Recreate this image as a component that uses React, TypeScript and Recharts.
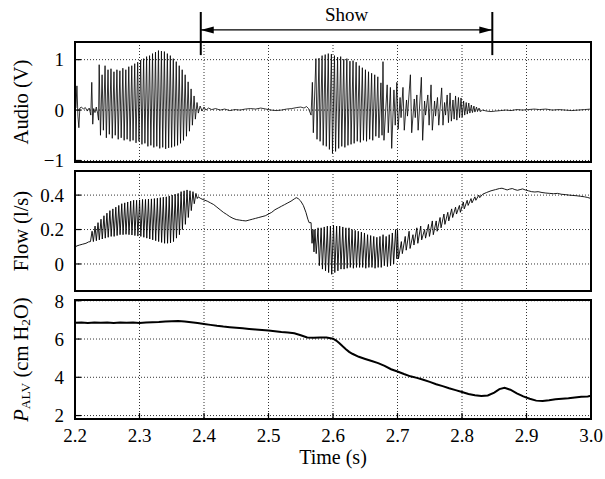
import React from 'react';
import {
  LineChart,
  Line,
  XAxis,
  YAxis,
  CartesianGrid,
  ReferenceArea,
  ReferenceLine,
  Label,
} from 'recharts';

type Pt = [number, number];

const FONT = 'Liberation Serif, DejaVu Serif, serif';

const timeTicks = [2.2, 2.3, 2.4, 2.5, 2.6, 2.7, 2.8, 2.9, 3.0];
const audioTicks = [-1, 0, 1];
const flowTicks = [0, 0.2, 0.4];
const palvTicks = [2, 4, 6, 8];

// "Show" interval marked above the audio trace (s)
const showStart = 2.395;
const showEnd = 2.847;

// audio (V)
const audioLead: Pt[] = [
  [2.2, 0.02], [2.2015, 0.05], [2.203, 0.48], [2.2045, -0.12], [2.206, -0.35], [2.2075, 0.04],
  [2.21, 0.06], [2.213, 0.02], [2.216, 0.05], [2.219, -0.02], [2.222, 0.04], [2.2245, -0.1],
  [2.226, 0.55], [2.2275, -0.28], [2.229, 0.03], [2.231, -0.05], [2.233, 0.06], [2.235, -0.06],
  [2.2365, -0.2],
];
const audioBurst1: Pt[] = [
  [2.2375, 0.9], [2.2395, -0.5], [2.242, 0.7], [2.244, -0.4], [2.2466, 0.88], [2.2486, -0.55],
  [2.2512, 0.8], [2.2532, -0.48], [2.2558, 0.82], [2.2578, -0.56], [2.2604, 0.76], [2.2624, -0.5],
  [2.265, 0.8], [2.267, -0.58], [2.2696, 0.78], [2.2716, -0.55], [2.2742, 0.83], [2.2762, -0.6],
  [2.2788, 0.8], [2.2808, -0.58], [2.2834, 0.86], [2.2854, -0.62], [2.288, 0.88], [2.29, -0.6],
  [2.2926, 0.92], [2.2946, -0.65], [2.2972, 0.95], [2.2992, -0.62], [2.3018, 0.99], [2.3038, -0.68],
  [2.3064, 1.02], [2.3084, -0.66], [2.311, 1.06], [2.313, -0.72], [2.3156, 1.08], [2.3176, -0.7],
  [2.3202, 1.12], [2.3222, -0.74], [2.3248, 1.15], [2.3268, -0.72], [2.3294, 1.18], [2.3314, -0.76],
  [2.334, 1.17], [2.336, -0.74], [2.3386, 1.16], [2.3406, -0.77], [2.3432, 1.12], [2.3452, -0.75],
  [2.3478, 1.08], [2.3498, -0.74], [2.3524, 1.02], [2.3544, -0.72], [2.357, 0.96], [2.359, -0.7],
  [2.3616, 0.88], [2.3636, -0.66], [2.3662, 0.8], [2.3682, -0.6], [2.3708, 0.7], [2.3728, -0.52],
  [2.3754, 0.56], [2.3774, -0.42], [2.38, 0.42], [2.382, -0.3], [2.3846, 0.28], [2.3866, -0.18],
  [2.3892, 0.15], [2.3912, -0.06],
];
const audioGap: Pt[] = [
  [2.394, 0.08], [2.397, -0.02], [2.4, 0.06], [2.403, 0.0], [2.407, 0.04], [2.412, 0.01],
  [2.418, 0.03], [2.425, 0.0], [2.432, 0.02], [2.44, -0.01], [2.448, 0.01], [2.456, 0.0],
  [2.464, 0.02], [2.472, 0.03], [2.48, 0.02], [2.488, 0.04], [2.496, 0.02], [2.504, 0.0],
  [2.512, -0.01], [2.52, 0.0], [2.528, 0.02], [2.536, 0.03], [2.544, 0.05], [2.55, 0.06],
  [2.555, 0.04], [2.559, 0.07], [2.562, 0.03],
];
const audioBurst2: Pt[] = [
  [2.566, -0.1], [2.568, 0.55], [2.5695, -0.45], [2.5735, 1.02], [2.5752, -0.58],
  [2.5783, 1.03], [2.58, -0.62], [2.5831, 1.08], [2.5848, -0.7], [2.5879, 1.1], [2.5896, -0.72],
  [2.5927, 1.12], [2.5944, -0.78], [2.5975, 1.11], [2.5992, -0.86], [2.6023, 1.08], [2.604, -0.82],
  [2.6071, 1.05], [2.6088, -0.76], [2.6119, 1.06], [2.6136, -0.72], [2.6167, 1.01], [2.6184, -0.74],
  [2.6215, 1.02], [2.6232, -0.7], [2.6263, 0.97], [2.628, -0.68], [2.6311, 0.98], [2.6328, -0.66],
  [2.6359, 0.95], [2.6376, -0.62], [2.6407, 0.88], [2.6424, -0.64], [2.6455, 0.84], [2.6472, -0.6],
  [2.6503, 0.8], [2.652, -0.62], [2.6551, 0.76], [2.6568, -0.58], [2.6599, 0.73], [2.6616, -0.6],
  [2.6647, 0.7], [2.6664, -0.52], [2.6695, 0.66], [2.6712, -0.55], [2.6743, 0.54], [2.676, -0.5],
  [2.6775, 0.96], [2.679, -0.6], [2.684, 0.5], [2.6857, -0.45], [2.689, 0.45], [2.691, -0.76],
  [2.6945, 0.4], [2.6965, -0.3], [2.699, 0.55], [2.701, -0.38], [2.704, 0.25], [2.7055, -0.15],
  [2.7085, 0.45], [2.7105, -0.4], [2.714, 0.2], [2.7155, -0.12], [2.72, 0.7], [2.722, -0.45],
  [2.726, 0.22], [2.7275, -0.15], [2.73, 0.3], [2.732, -0.4], [2.737, 0.65], [2.739, -0.6],
  [2.742, 0.18], [2.7435, -0.1], [2.747, 0.3], [2.749, -0.3], [2.752, 0.5], [2.754, -0.4],
  [2.7575, 0.18], [2.759, -0.12], [2.762, 0.25], [2.764, -0.3], [2.7685, 0.44], [2.7705, -0.3],
  [2.773, 0.15], [2.7745, -0.1], [2.777, 0.3], [2.779, -0.25], [2.7815, 0.34], [2.7835, -0.22],
  [2.786, 0.2], [2.7878, -0.18], [2.79, 0.28], [2.792, -0.2], [2.7945, 0.25], [2.7962, -0.15],
  [2.7985, 0.24], [2.8002, -0.14], [2.8025, 0.18], [2.8042, -0.1], [2.8065, 0.15], [2.8082, -0.08],
  [2.8105, 0.14], [2.8122, -0.06], [2.8145, 0.1], [2.8162, -0.05], [2.8185, 0.08], [2.82, -0.04],
  [2.8225, 0.06], [2.824, -0.03], [2.8265, 0.04], [2.828, -0.03],
];
const audioTail: Pt[] = [
  [2.832, 0.0], [2.838, -0.02], [2.845, -0.03], [2.852, -0.02], [2.86, -0.01], [2.868, 0.0],
  [2.876, -0.01], [2.885, 0.01], [2.894, 0.0], [2.903, 0.01], [2.912, 0.02], [2.92, 0.01],
  [2.93, 0.02], [2.94, 0.0], [2.95, 0.01], [2.96, 0.0], [2.97, -0.01], [2.98, 0.0],
  [2.99, 0.01], [3.0, 0.02],
];

// flow (l/s)
const flowLead: Pt[] = [
  [2.2, 0.17], [2.201, 0.1], [2.203, 0.105], [2.207, 0.11], [2.212, 0.115], [2.217, 0.12],
  [2.221, 0.128], [2.224, 0.13],
];
const flowBurst1: Pt[] = [
  [2.2265, 0.19], [2.2285, 0.13], [2.2311, 0.22], [2.2331, 0.135], [2.2357, 0.24], [2.2377, 0.14],
  [2.2403, 0.26], [2.2423, 0.145], [2.2449, 0.28], [2.2469, 0.15], [2.2495, 0.295], [2.2515, 0.155],
  [2.2541, 0.31], [2.2561, 0.16], [2.2587, 0.32], [2.2607, 0.16], [2.2633, 0.33], [2.2653, 0.165],
  [2.2679, 0.34], [2.2699, 0.17], [2.2725, 0.35], [2.2745, 0.17], [2.2771, 0.355], [2.2791, 0.172],
  [2.2817, 0.36], [2.2837, 0.17], [2.2863, 0.365], [2.2883, 0.168], [2.2909, 0.37], [2.2929, 0.165],
  [2.2955, 0.37], [2.2975, 0.162], [2.3001, 0.372], [2.3021, 0.16], [2.3047, 0.375], [2.3067, 0.155],
  [2.3093, 0.375], [2.3113, 0.15], [2.3139, 0.377], [2.3159, 0.145], [2.3185, 0.378], [2.3205, 0.14],
  [2.3231, 0.38], [2.3251, 0.135], [2.3277, 0.382], [2.3297, 0.13], [2.3323, 0.385], [2.3343, 0.125],
  [2.3369, 0.388], [2.3389, 0.12], [2.3415, 0.39], [2.3435, 0.12], [2.3461, 0.395], [2.3481, 0.122],
  [2.3507, 0.4], [2.3527, 0.13], [2.3553, 0.405], [2.3573, 0.15], [2.3599, 0.41], [2.3619, 0.17],
  [2.3645, 0.42], [2.3665, 0.2], [2.3691, 0.425], [2.3711, 0.23], [2.3737, 0.43], [2.3757, 0.27],
  [2.3783, 0.425], [2.3803, 0.31], [2.3829, 0.42], [2.3849, 0.35], [2.3875, 0.41], [2.3895, 0.38],
];
const flowDip: Pt[] = [
  [2.391, 0.39], [2.395, 0.38], [2.4, 0.372], [2.405, 0.365], [2.41, 0.355], [2.415, 0.345],
  [2.42, 0.33], [2.425, 0.315], [2.43, 0.3], [2.435, 0.288], [2.44, 0.275], [2.445, 0.265],
  [2.45, 0.258], [2.455, 0.255], [2.46, 0.252], [2.465, 0.25], [2.47, 0.255], [2.475, 0.26],
  [2.48, 0.265], [2.485, 0.27], [2.49, 0.275], [2.495, 0.28], [2.5, 0.29], [2.505, 0.3],
  [2.51, 0.315], [2.515, 0.325], [2.52, 0.335], [2.525, 0.345], [2.53, 0.355], [2.535, 0.365],
  [2.54, 0.378], [2.543, 0.385], [2.546, 0.38], [2.55, 0.365], [2.554, 0.34], [2.558, 0.3],
  [2.561, 0.26], [2.563, 0.24],
];
const flowBurst2: Pt[] = [
  [2.566, 0.24], [2.5675, 0.12], [2.569, 0.2], [2.5705, 0.07],
  [2.572, 0.2], [2.574, 0.06], [2.5768, 0.21], [2.5788, -0.01], [2.5816, 0.21], [2.5836, -0.03],
  [2.5864, 0.215], [2.5884, -0.04], [2.5912, 0.22], [2.5932, -0.05], [2.596, 0.22], [2.598, -0.06],
  [2.6008, 0.225], [2.6028, -0.05], [2.6056, 0.22], [2.6076, -0.04], [2.6104, 0.22], [2.6124, -0.03],
  [2.6152, 0.215], [2.6172, -0.03], [2.62, 0.21], [2.622, -0.025], [2.6248, 0.21], [2.6268, -0.02],
  [2.6296, 0.2], [2.6316, -0.025], [2.6344, 0.195], [2.6364, -0.02], [2.6392, 0.19], [2.6412, -0.02],
  [2.644, 0.185], [2.646, -0.02], [2.6488, 0.18], [2.6508, -0.025], [2.6536, 0.17], [2.6556, -0.02],
  [2.6584, 0.165], [2.6604, -0.02], [2.6632, 0.16], [2.6652, -0.025], [2.668, 0.155], [2.67, -0.02],
  [2.6728, 0.16], [2.6748, -0.02], [2.6776, 0.17], [2.6796, -0.01], [2.6824, 0.16], [2.6844, -0.015],
  [2.6872, 0.17], [2.6892, -0.01], [2.692, 0.18], [2.694, 0.0], [2.697, 0.2], [2.699, 0.03],
];
const flowRise: Pt[] = [
  [2.7, 0.2], [2.7015, 0.03], [2.706, 0.13], [2.7075, 0.06], [2.712, 0.16], [2.7135, 0.08],
  [2.718, 0.19], [2.7195, 0.09], [2.724, 0.17], [2.7255, 0.11], [2.73, 0.21], [2.7315, 0.12],
  [2.736, 0.22], [2.7375, 0.14], [2.742, 0.2], [2.7435, 0.15], [2.748, 0.23], [2.7495, 0.16],
  [2.754, 0.25], [2.7555, 0.17], [2.76, 0.25], [2.7615, 0.19], [2.766, 0.27], [2.7675, 0.21],
  [2.772, 0.29], [2.7735, 0.23], [2.778, 0.3], [2.7795, 0.25], [2.784, 0.32], [2.7855, 0.27],
  [2.79, 0.33], [2.7915, 0.29], [2.796, 0.34], [2.7975, 0.3], [2.802, 0.36], [2.8035, 0.32],
  [2.808, 0.37], [2.8095, 0.34], [2.814, 0.38], [2.8155, 0.355], [2.82, 0.39], [2.8215, 0.37],
  [2.826, 0.4], [2.8275, 0.385],
];
const flowTail: Pt[] = [
  [2.832, 0.405], [2.838, 0.415], [2.845, 0.425], [2.852, 0.432], [2.858, 0.438], [2.862, 0.44],
  [2.866, 0.435], [2.87, 0.43], [2.874, 0.435], [2.878, 0.438], [2.882, 0.432], [2.886, 0.428],
  [2.89, 0.432], [2.894, 0.436], [2.898, 0.43], [2.903, 0.425], [2.908, 0.42], [2.913, 0.418],
  [2.918, 0.42], [2.924, 0.415], [2.93, 0.412], [2.936, 0.41], [2.942, 0.408], [2.948, 0.41],
  [2.954, 0.405], [2.96, 0.403], [2.966, 0.4], [2.972, 0.398], [2.978, 0.396], [2.984, 0.393],
  [2.99, 0.39], [2.995, 0.386], [3.0, 0.38],
];

// alveolar pressure (cm H2O)
const palv: Pt[] = [
  [2.2, 6.85], [2.21, 6.86], [2.22, 6.84], [2.23, 6.86], [2.24, 6.85], [2.25, 6.86], [2.26, 6.84],
  [2.27, 6.86], [2.28, 6.85], [2.29, 6.86], [2.3, 6.84], [2.31, 6.87], [2.32, 6.88], [2.33, 6.89],
  [2.34, 6.91], [2.35, 6.93], [2.36, 6.94], [2.37, 6.92], [2.38, 6.88], [2.39, 6.84], [2.4, 6.79],
  [2.41, 6.74], [2.42, 6.69], [2.43, 6.65], [2.44, 6.62], [2.45, 6.59], [2.46, 6.56], [2.47, 6.53],
  [2.48, 6.5], [2.49, 6.47], [2.5, 6.44], [2.51, 6.41], [2.52, 6.37], [2.53, 6.34], [2.54, 6.3],
  [2.55, 6.2], [2.56, 6.08], [2.57, 6.07], [2.58, 6.08], [2.59, 6.08], [2.6, 6.02], [2.605, 5.92],
  [2.61, 5.78], [2.615, 5.62], [2.62, 5.47], [2.625, 5.33], [2.63, 5.23], [2.64, 5.07], [2.65, 4.96],
  [2.66, 4.85], [2.67, 4.74], [2.68, 4.6], [2.69, 4.42], [2.7, 4.3], [2.71, 4.17], [2.72, 4.05],
  [2.73, 3.97], [2.74, 3.87], [2.75, 3.76], [2.76, 3.64], [2.77, 3.54], [2.78, 3.43], [2.79, 3.33],
  [2.8, 3.23], [2.81, 3.13], [2.82, 3.06], [2.83, 3.02], [2.84, 3.05], [2.85, 3.2], [2.858, 3.38],
  [2.866, 3.45], [2.875, 3.35], [2.885, 3.16], [2.895, 3.0], [2.905, 2.88], [2.915, 2.78],
  [2.925, 2.76], [2.935, 2.8], [2.945, 2.85], [2.955, 2.88], [2.965, 2.9], [2.975, 2.94],
  [2.985, 2.98], [2.995, 3.0], [3.0, 3.04],
];

const toRows = (...parts: Pt[][]) => parts.flat().map(([t, v]) => ({ t, v }));

const audioData = toRows(audioLead, audioBurst1, audioGap, audioBurst2, audioTail);
const flowData = toRows(flowLead, flowBurst1, flowDip, flowBurst2, flowRise, flowTail);
const palvData = toRows(palv);

const fmtY = (v: number) => (v < 0 ? `\u2212${-v}` : String(v));

const textStyle = { fontFamily: FONT };

const rotatedLabel = (content: React.ReactNode) => (props: any) => {
  const vb = props.viewBox;
  const cx = vb.x + 21;
  const cy = vb.y + vb.height / 2;
  return (
    <text
      x={cx}
      y={cy}
      transform={`rotate(-90 ${cx} ${cy})`}
      textAnchor="middle"
      dominantBaseline="central"
      style={textStyle}
      fontSize={20.5}
      fill="#000"
    >
      {content}
    </text>
  );
};

const timeLabel = (props: any) => {
  const vb = props.viewBox;
  return (
    <text x={vb.x + vb.width / 2} y={vb.y + 45} textAnchor="middle" style={textStyle} fontSize={20} fill="#000">
      Time (s)
    </text>
  );
};

const ArrowShape = (props: any) => {
  const { x1, y1, x2 } = props;
  return (
    <g>
      <line x1={x1} y1={y1} x2={x2} y2={y1} stroke="#000" strokeWidth={1.3} />
      <polygon points={`${x1},${y1} ${x1 + 13},${y1 - 3.5} ${x1 + 13},${y1 + 3.5}`} fill="#000" />
      <polygon points={`${x2},${y1} ${x2 - 13},${y1 - 3.5} ${x2 - 13},${y1 + 3.5}`} fill="#000" />
    </g>
  );
};

const tickStyle = { fill: '#000', fontSize: 19, fontFamily: FONT, style: textStyle };
const tickLineStyle = { stroke: '#000', strokeWidth: 1.2 };

interface PanelProps {
  data: { t: number; v: number }[];
  domain: [number, number];
  ticks: number[];
  top: number;
  bottom: number;
  yLabel: React.ReactNode;
  showTime?: boolean;
  lineWidth: number;
  children?: React.ReactNode;
}

const Panel: React.FC<PanelProps> = ({ data, domain, ticks, top, bottom, yLabel, showTime, lineWidth, children }) => (
  <div style={{ position: 'absolute', left: 0, top: 0 }}>
    <LineChart width={605} height={479} data={data} margin={{ top, right: 14, bottom, left: 0 }}>
      <CartesianGrid stroke="#333" strokeDasharray="1 2" />
      <XAxis
        type="number"
        dataKey="t"
        domain={[2.2, 3.0]}
        ticks={timeTicks}
        interval={0}
        allowDataOverflow
        axisLine={false}
        height={showTime ? 60 : 0}
        tickSize={-6}
        tickMargin={16}
        tickLine={tickLineStyle}
        tick={tickStyle}
        tickFormatter={showTime ? (v: number) => v.toFixed(1) : () => ''}
      >
        {showTime ? <Label content={timeLabel} /> : null}
      </XAxis>
      <YAxis
        type="number"
        domain={domain}
        ticks={ticks}
        interval={0}
        allowDataOverflow
        axisLine={false}
        width={75}
        tickSize={-6}
        tickMargin={17}
        tickLine={tickLineStyle}
        tick={tickStyle}
        tickFormatter={fmtY}
      >
        <Label content={rotatedLabel(yLabel)} />
      </YAxis>
      <Line
        type="linear"
        dataKey="v"
        stroke="#000"
        strokeWidth={lineWidth}
        dot={false}
        isAnimationActive={false}
      />
      <ReferenceArea
        x1={2.2}
        x2={3.0}
        y1={domain[0]}
        y2={domain[1]}
        fill="none"
        stroke="#000"
        strokeWidth={2}
        ifOverflow="visible"
      />
      {children}
    </LineChart>
  </div>
);

const App: React.FC = () => (
  <div style={{ position: 'absolute', left: 0, top: 0, width: 605, height: 479, background: '#fff', fontFamily: FONT }}>
    <Panel data={audioData} domain={[-1.03, 1.35]} ticks={audioTicks} top={42} bottom={317} yLabel="Audio (V)" lineWidth={0.8}>
      <ReferenceLine
        segment={[{ x: showStart, y: 1.09 }, { x: showStart, y: 1.945 }]}
        stroke="#000"
        strokeWidth={2}
        ifOverflow="visible"
      />
      <ReferenceLine
        segment={[{ x: showEnd, y: 1.09 }, { x: showEnd, y: 1.945 }]}
        stroke="#000"
        strokeWidth={2}
        ifOverflow="visible"
      />
      <ReferenceLine
        segment={[{ x: showStart, y: 1.59 }, { x: showEnd, y: 1.59 }]}
        ifOverflow="visible"
        shape={ArrowShape}
        label={{ value: 'Show', position: 'top', offset: 9, fill: '#000', fontSize: 19, style: textStyle }}
      />
    </Panel>
    <Panel data={flowData} domain={[-0.157, 0.54]} ticks={flowTicks} top={171} bottom={188} yLabel="Flow (l/s)" lineWidth={0.9} />
    <Panel
      data={palvData}
      domain={[1.82, 8.04]}
      ticks={palvTicks}
      top={300}
      bottom={0}
      showTime
      lineWidth={2}
      yLabel={
        <>
          <tspan fontStyle="italic">P</tspan>
          <tspan fontSize={13.5} dy={4}>ALV</tspan>
          <tspan dy={-4}> (cm H</tspan>
          <tspan fontSize={13.5} dy={4}>2</tspan>
          <tspan dy={-4}>O)</tspan>
        </>
      }
    />
  </div>
);

export default App;
